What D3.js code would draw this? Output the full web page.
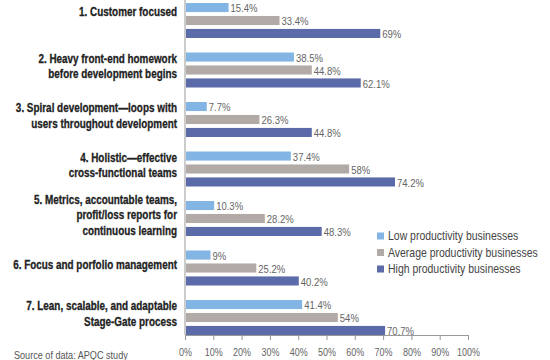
<!DOCTYPE html>
<html>
<head>
<meta charset="utf-8">
<script src="https://cdn.jsdelivr.net/npm/d3@7"></script>
<style>
  html, body { margin: 0; padding: 0; background: #fff; }
  svg { display: block; }
</style>
</head>
<body>
<svg id="chart" width="550" height="360"></svg>
<script>
const categories = [
  "1. Customer focused",
  "2. Heavy front-end homework\nbefore development begins",
  "3. Spiral development\u2014loops with\nusers throughout development",
  "4. Holistic\u2014effective\ncross-functional teams",
  "5. Metrics, accountable teams,\nprofit/loss reports for\ncontinuous learning",
  "6. Focus and porfolio management",
  "7. Lean, scalable, and adaptable\nStage-Gate process"
];
const seriesNames = ["Low productivity businesses", "Average productivity businesses", "High productivity businesses"];
const lowValues = [15.4, 38.5, 7.7, 37.4, 10.3, 9, 41.4];
const avgValues = [33.4, 44.8, 26.3, 58, 28.2, 25.2, 54];
const highValues = [69, 62.1, 44.8, 74.2, 48.3, 40.2, 70.7];
const valueLabels = [
  ["15.4%", "38.5%", "7.7%", "37.4%", "10.3%", "9%", "41.4%"],
  ["33.4%", "44.8%", "26.3%", "58%", "28.2%", "25.2%", "54%"],
  ["69%", "62.1%", "44.8%", "74.2%", "48.3%", "40.2%", "70.7%"]
];
const tickValues = [0, 10, 20, 30, 40, 50, 60, 70, 80, 90, 100];
const sourceNote = "Source of data: APQC study";
const colors = ["#82b5e3", "#b2aaa6", "#5b6aa9"];

const series = [lowValues, avgValues, highValues];
const svg = d3.select("#chart");
const sans = "'Liberation Sans', Arial, Helvetica, sans-serif";

// horizontal squeeze factor so a sample string reaches a target width
function squeeze(sample, size, weight, target) {
  const t = svg.append("text").attr("font-family", sans).attr("font-size", size)
    .attr("font-weight", weight).text(sample);
  const w = t.node().getComputedTextLength();
  t.remove();
  return target / w;
}
function narrowText(parent, x, y, txt, size, weight, fill, anchor, sx) {
  const g = parent.append("g").attr("transform", `translate(${x},${y}) scale(${sx},1)`);
  return g.append("text").attr("x", 0).attr("y", 0).attr("dy", "0.36em")
    .attr("font-family", sans).attr("font-size", size).attr("font-weight", weight)
    .attr("fill", fill).attr("text-anchor", anchor).text(txt);
}

const x = d3.scaleLinear().domain([0, 100]).range([185, 468]);
const yGroup = d3.scaleBand().domain(d3.range(categories.length)).range([3, 3 + 7 * 49.5]).paddingInner(0).paddingOuter(0);
const ySeries = d3.scaleBand().domain(d3.range(3)).range([0, 35]).paddingInner(0.3).paddingOuter(0);

const sxVal = squeeze("15.4%", 11.5, "normal", 27);
const sxTick = squeeze("100%", 11.5, "normal", 23);
const sxCat = squeeze("1. Customer focused", 12.5, "bold", 98);
const sxLeg = squeeze("Average productivity businesses", 12, "normal", 150);
const sxSrc = squeeze(sourceNote, 10, "normal", 114);

// bars
series.forEach((vals, s) => {
  const g = svg.append("g");
  g.selectAll("rect").data(vals).enter().append("rect")
    .attr("x", x(0) + 1)
    .attr("y", (d, i) => yGroup(i) + ySeries(s))
    .attr("width", d => x(d) - x(0) - 1)
    .attr("height", ySeries.bandwidth())
    .attr("fill", colors[s]);
  vals.forEach((d, i) => {
    narrowText(g, x(d) + 2, yGroup(i) + ySeries(s) + ySeries.bandwidth() / 2 + 0.5,
      valueLabels[s][i], 11.5, "normal", "#666", "start", sxVal);
  });
});

// axes
const xAxis = d3.axisBottom(x).tickValues(tickValues).tickFormat(d => d + "%").tickSize(5).tickSizeOuter(0);
const ax = svg.append("g").attr("transform", "translate(0,335)").call(xAxis);
ax.select(".domain").attr("stroke", "#999");
ax.selectAll(".tick line").attr("stroke", "#999");
ax.selectAll(".tick text").remove();
ax.selectAll(".tick").each(function(d) {
  narrowText(d3.select(this), 0, 17, d + "%", 11.5, "normal", "#666", "middle", sxTick);
});

svg.append("line")
  .attr("x1", x(0)).attr("x2", x(0))
  .attr("y1", 0).attr("y2", 335)
  .attr("stroke", "#999");

// category labels
categories.forEach((c, i) => {
  const lines = c.split("\n");
  const center = yGroup(i) + (lines.length === 1 && i === 0 ? 8.5 : 13.5);
  const lh = 15.5;
  lines.forEach((ln, k) => {
    narrowText(svg, 177, center + (k - (lines.length - 1) / 2) * lh, ln, 12.5, "bold", "#222", "end", sxCat)
      .attr("stroke", "#222").attr("stroke-width", 0.3);
  });
});

// legend
const leg = svg.append("g");
seriesNames.forEach((n, s) => {
  const yy = 236 + s * 16.5;
  leg.append("rect").attr("x", 377).attr("y", yy - 3.5).attr("width", 7).attr("height", 7).attr("fill", colors[s]);
  narrowText(leg, 388, yy, n, 12, "normal", "#444", "start", sxLeg);
});

// source
narrowText(svg, 14, 355, sourceNote, 10, "normal", "#555", "start", sxSrc);
</script>
</body>
</html>
